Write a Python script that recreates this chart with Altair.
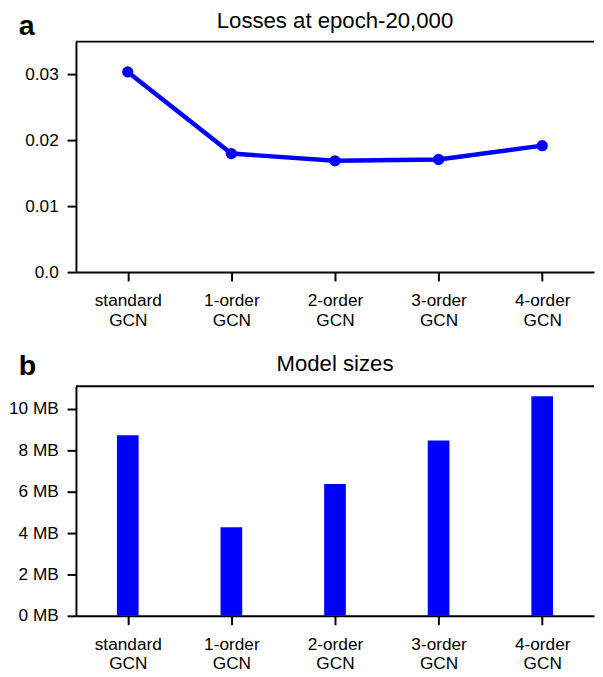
import altair as alt
import pandas as pd

# ---- data ----
models = ["standard GCN", "1-order GCN", "2-order GCN", "3-order GCN", "4-order GCN"]
losses = [0.0304, 0.0180, 0.0169, 0.0171, 0.0192]
sizes_mb = [8.73, 4.29, 6.38, 8.48, 10.62]
loss_ticks = [0.0, 0.01, 0.02, 0.03]
size_ticks = [0, 2, 4, 6, 8, 10]
panel_letters = ["a", "b"]
panel_titles = ["Losses at epoch-20,000", "Model sizes"]

FONT = "Liberation Sans"
BLUE = "#0000ff"
W = 526
H1 = 234
H2 = 233
LAB = 17.5

df1 = pd.DataFrame({"model": models, "loss": losses})
df2 = pd.DataFrame({"model": models, "size": sizes_mb})
one = pd.DataFrame({"v": [0]})


def x_enc():
    return alt.X(
        "model:N",
        sort=models,
        scale=alt.Scale(type="point", padding=0.5),
        axis=alt.Axis(
            title=None,
            labelExpr="split(datum.label, ' ')",
            labelFontSize=LAB,
            labelLineHeight=20,
            labelAngle=0,
            labelPadding=11,
            tickSize=9,
            tickWidth=2,
            domainWidth=2,
            domainColor="black",
            tickColor="black",
            labelColor="black",
            grid=False,
        ),
    )


def y_axis(values, expr):
    return alt.Axis(
        title=None,
        values=values,
        labelExpr=expr,
        labelFontSize=LAB,
        labelPadding=9,
        tickSize=9,
        tickWidth=2,
        domainWidth=2,
        domainColor="black",
        tickColor="black",
        labelColor="black",
        grid=False,
    )


def decorations(letter, title, ly, ty):
    top = alt.Chart(one).mark_rule(color="black", strokeWidth=2).encode(
        x=alt.value(0), x2=alt.value(W), y=alt.value(0)
    )
    let = alt.Chart(one).mark_text(
        text=letter, font=FONT, fontSize=29, fontWeight="bold", align="left",
        baseline="alphabetic", color="black"
    ).encode(x=alt.value(-58), y=alt.value(ly))
    tit = alt.Chart(one).mark_text(
        text=title, font=FONT, fontSize=22.5, align="center",
        baseline="alphabetic", color="black"
    ).encode(x=alt.value(W / 2), y=alt.value(ty))
    return top, let, tit


# ---- panel a ----
base1 = alt.Chart(df1).encode(
    x=x_enc(),
    y=alt.Y(
        "loss:Q",
        scale=alt.Scale(domain=[0, 0.035], nice=False, zero=True),
        axis=y_axis(loss_ticks, "datum.value == 0 ? '0.0' : format(datum.value, '.2f')"),
    ),
)
line = base1.mark_line(color=BLUE, strokeWidth=4.5)
pts = base1.mark_point(filled=True, size=130, color=BLUE, opacity=1)
t1, l1, ti1 = decorations(panel_letters[0], panel_titles[0], -6.5, -13.4)
panel_a = alt.layer(line, pts, t1, l1, ti1).properties(width=W, height=H1)

# ---- panel b ----
bars = alt.Chart(df2).mark_bar(size=22, color=BLUE).encode(
    x=x_enc(),
    y=alt.Y(
        "size:Q",
        scale=alt.Scale(domain=[0, 11.1], nice=False, zero=True),
        axis=y_axis(size_ticks, "datum.value + ' MB'"),
    ),
)
t2, l2, ti2 = decorations(panel_letters[1], panel_titles[1], -11.7, -16)
panel_b = alt.layer(bars, t2, l2, ti2).properties(width=W, height=H2)

chart = alt.vconcat(panel_a, panel_b, spacing=23).properties(
    padding={"left": 0, "top": -3, "right": 0, "bottom": 0}
).configure(font=FONT).configure_view(stroke=None)

chart.save("out.html", embed_options={"renderer": "svg", "actions": False})
